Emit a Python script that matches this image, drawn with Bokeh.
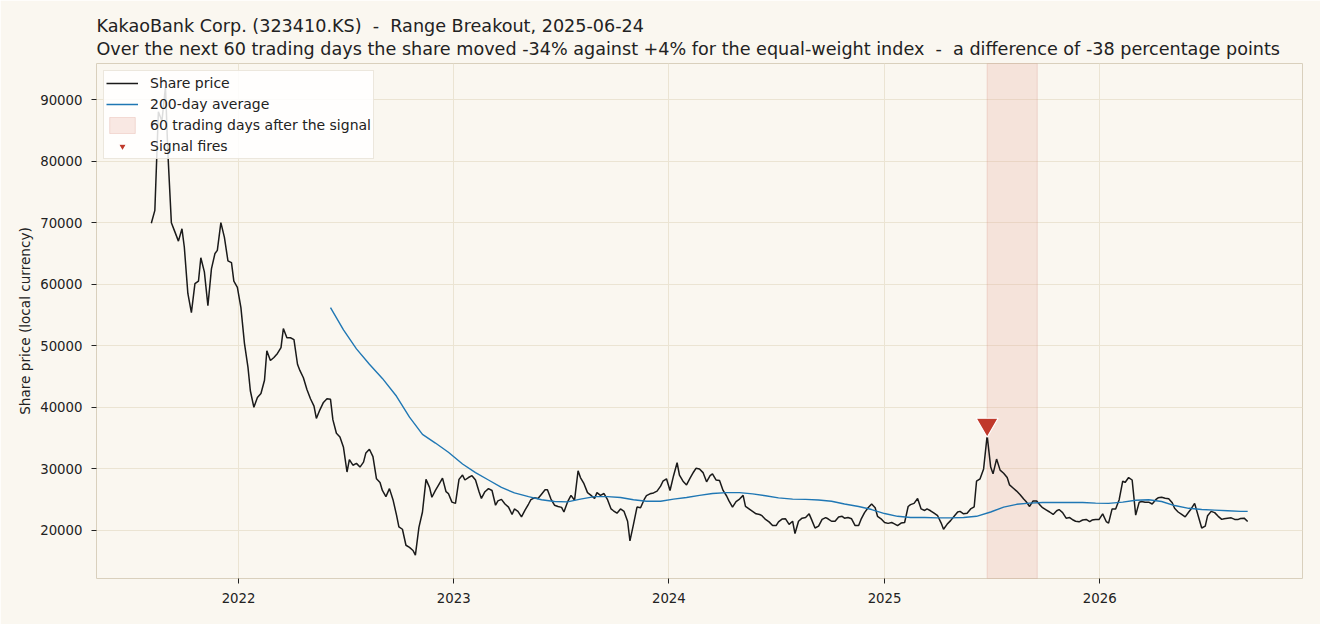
from datetime import datetime
import pandas as pd
from bokeh.plotting import figure
from bokeh.models import (Range1d, Title, YearsTicker, DatetimeTickFormatter,
                          FixedTicker, NumeralTickFormatter)
from bokeh.embed import file_html
from bokeh.resources import INLINE

NB = "\u00a0"
TITLE = "KakaoBank Corp. (323410.KS) " + NB + "-" + NB + " Range Breakout, 2025-06-24"
SUBTITLE = ("Over the next 60 trading days the share moved -34% against +4% for the "
            "equal-weight index " + NB + "-" + NB + " a difference of -38 percentage points")
Y_LABEL = "Share price (local currency)"

# share price, sampled every 4 trading days from the listing date
PRICE_START = "2021-08-06"
PRICE = [
    69900, 72000, 88000, 86500, 92050, 81500, 70000, 68500, 67000, 69000,
    66000, 58500, 55400, 60100, 60500, 64300, 62000, 56500, 62500, 65000,
    65500, 70000, 67600, 63800, 63500, 60500, 59500, 56200, 50400, 46500,
    42700, 40000, 41600, 42250, 44400, 49200, 47600, 48100, 48750, 49700,
    52800, 51300, 51300, 51000, 47000, 46000, 44800, 42900, 41400, 40200,
    38200, 39600, 40800, 41400, 41300, 38000, 35800, 35200, 33500, 29500,
    31500, 30600, 30900, 30300, 31100, 32600, 33200, 32000, 28400, 27800,
    26500, 25500, 26800, 25000, 22500, 20600, 20200, 17600, 17250, 16750,
    16000, 20500, 23000, 28300, 27000, 25400, 26500, 27500, 28500, 26300,
    26000, 24600, 24400, 28300, 29000, 28200, 28600, 28900, 28200, 26300,
    25200, 26300, 26800, 26500, 24100, 24800, 25050, 24300, 23800, 22600,
    23500, 23100, 22200, 23300, 24300, 25000, 25300, 25200, 25900, 26600,
    26600, 25100, 24100, 23900, 23750, 23000, 24600, 25700, 24900, 29700,
    28600, 27600, 26150, 25700, 25200, 26150, 25700, 26000, 25000, 23500,
    23200, 22800, 23500, 23100, 21500, 18300, 21000, 23800, 23700, 25000,
    25650, 25950, 26100, 26400, 27200, 28000, 28400, 26500, 28900, 31000,
    29000, 28000, 27400, 28500, 29500, 30100, 30000, 29400, 27900, 28900,
    29200, 28200, 28100, 26500, 25600, 24800, 23800, 24700, 25100, 25700,
    23900, 23500, 23100, 22700, 22600, 22400, 21800, 21400, 20800, 20800,
    21400, 21850, 21900, 21000, 21500, 19500, 21500, 22000, 22100, 22700,
    21800, 20400, 20700, 21800, 22100, 21900, 21500, 21500, 22200, 22300,
    22000, 22100, 21900, 20800, 20800, 21800, 22900, 23700, 24300, 23700,
    22300, 21900, 21300, 21150, 21300, 21100, 20800, 21200, 21300, 23900,
    24200, 24400, 25200, 23500, 23250, 23500, 23200, 22800, 22400, 21200,
    20200, 21000, 21600, 22300, 23000, 23100, 22700, 22800, 23500, 23850,
    28000, 28400, 30000, 35400, 30300, 29200, 31600, 29800, 29300, 28600,
    27400, 26900, 26400, 25800, 25100, 24700, 23900, 24800, 24800, 24100,
    23700, 23350, 23000, 22600, 23200, 23400, 22900, 22000, 22100, 21700,
    21500, 21400, 21700, 21800, 21450, 21700, 21800, 21800, 22700, 21450,
    21200, 23500, 23500, 25000, 28000, 27800, 28600, 28200, 22500, 24600,
    24700, 24600, 24600, 24300, 25000, 25300, 25400, 25250, 25150, 24500,
    23600, 23000, 22600, 22200, 23000, 23500, 24400, 22400, 20400, 20700,
    22400, 23100, 22900, 22300, 21800, 21900, 22000, 22050, 21800, 21800,
    21950, 22000, 21450,
]

# 200-day average, read every 16 trading days (plus the last day)
MA_FIRST, MA_STEP = 54, 4
MA = [
    56200, 52600, 49500, 47000, 44700, 41800, 38400, 35600, 34200, 32700,
    30800, 29400, 28200, 27000, 26100, 25500, 25000, 24700, 24650, 25100,
    25500, 25500, 25350, 25000, 24750, 24750, 25100, 25350, 25700, 26000,
    26150, 26150, 25950, 25650, 25300, 25100, 25050, 24950, 24750, 24300,
    23900, 23400, 22750, 22300, 22100, 22100, 22050, 22050, 22100, 22300,
    23000, 23800, 24250, 24450, 24550, 24550, 24550, 24550, 24450, 24400,
    24600, 24900, 25000, 24700, 24050, 23600, 23400, 23300, 23200, 23100,
    23100,
]

SIGNAL_DATE = "2025-06-24"
SIGNAL_MARK = 37200
WINDOW_END = "2025-09-17"

Y_TICKS = [20000, 30000, 40000, 50000, 60000, 70000, 80000, 90000]
X_START, X_END = datetime(2021, 5, 5), datetime(2026, 12, 11)
Y_LO, Y_HI = 12200, 95850

BG = "#faf7f0"
INK = "#222222"
FONT = "DejaVu Sans"

dates = pd.bdate_range(PRICE_START, periods=len(PRICE), freq="4B")
ma_idx = list(range(MA_FIRST, MA_FIRST + MA_STEP * (len(MA) - 1), MA_STEP)) + [len(PRICE) - 1]
ma_dates = dates[ma_idx]

p = figure(width=1320, height=624, x_axis_type="datetime",
           x_range=Range1d(X_START, X_END), y_range=Range1d(Y_LO, Y_HI),
           output_backend="svg", toolbar_location=None,
           min_border_left=96, min_border_right=18, min_border_bottom=46,
           min_border_top=63)

p.background_fill_color = BG
p.border_fill_color = BG
p.outline_line_color = "#d9d0bd"
p.outline_line_width = 1

sig = pd.Timestamp(SIGNAL_DATE)
wend = pd.Timestamp(WINDOW_END)

p.quad(left=[sig], right=[wend], bottom=[Y_LO], top=[Y_HI],
       fill_color="#e8a898", fill_alpha=0.25, line_color="#d98c7a", line_alpha=0.25,
       line_width=1, legend_label="60 trading days after the signal")

p.line(dates, PRICE, line_color="#1a1a1a", line_width=1.5, legend_label="Share price")
p.line(ma_dates, MA, line_color="#1f77b4", line_width=1.4, legend_label="200-day average")

p.scatter([sig], [SIGNAL_MARK], marker="inverted_triangle", size=22,
          fill_color="#c0392b", line_color="white", line_width=1.2,
          legend_label="Signal fires")

# axes
p.xaxis.ticker = YearsTicker(desired_num_ticks=6)
p.xaxis.formatter = DatetimeTickFormatter(years="%Y", months="%Y", days="%Y")
p.yaxis.ticker = FixedTicker(ticks=Y_TICKS)
p.yaxis.formatter = NumeralTickFormatter(format="0")
for ax in (p.xaxis[0], p.yaxis[0]):
    ax.axis_line_color = None
    ax.major_tick_line_color = INK
    ax.major_tick_out = 5
    ax.major_tick_in = 0
    ax.minor_tick_line_color = None
    ax.major_label_text_font = FONT
    ax.major_label_text_font_size = "13.3px"
    ax.major_label_text_color = INK
p.xaxis.major_label_standoff = 9
p.yaxis.major_label_standoff = 9
p.yaxis.axis_label = Y_LABEL
p.yaxis.axis_label_text_font = FONT
p.yaxis.axis_label_text_font_size = "13.6px"
p.yaxis.axis_label_text_font_style = "normal"
p.yaxis.axis_label_text_color = INK
p.yaxis.axis_label_standoff = 4

p.xgrid.grid_line_color = "#ebe4d3"
p.ygrid.grid_line_color = "#ebe4d3"
p.xgrid.grid_line_width = 1
p.ygrid.grid_line_width = 1

# titles
t2 = Title(text=SUBTITLE, text_font=FONT, text_font_size="17.6px", text_font_style="normal",
           text_color=INK, align="left", standoff=9)
t1 = Title(text=TITLE, text_font=FONT, text_font_size="17.6px", text_font_style="normal",
           text_color=INK, align="left", standoff=-7)
p.add_layout(t2, "above")
p.add_layout(t1, "above")

# legend
lg = p.legend[0]
lg.location = "top_left"
lg.margin = 7
lg.padding = 2
lg.spacing = 1
lg.glyph_width = 32
lg.glyph_height = 20
lg.label_height = 20
lg.label_standoff = 12
lg.label_text_font = FONT
lg.label_text_font_size = "14px"
lg.label_text_color = INK
lg.background_fill_color = "white"
lg.background_fill_alpha = 0.85
lg.border_line_color = "#d9d0bd"
lg.border_line_width = 1.2
lg.items = [lg.items[1], lg.items[2], lg.items[0], lg.items[3]]

html = file_html(p, INLINE)
open("out.html", "w").write(html)
